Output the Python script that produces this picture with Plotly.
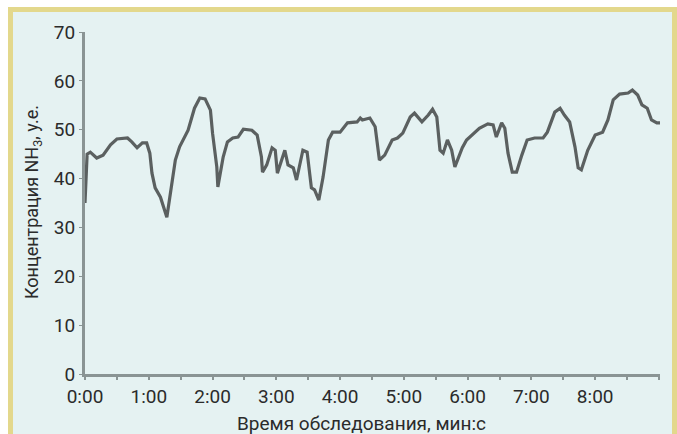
import plotly.graph_objects as go

# Time since start of examination, seconds
time_s = [0, 2, 5, 11, 17, 24, 30, 40, 44, 49, 54, 58, 61, 63, 66, 71, 77, 85, 89, 97,
          103, 108, 113, 118, 120, 124, 125, 130, 134, 139, 144, 149, 157, 162, 166, 167,
          171, 176, 179, 181, 188, 191, 196, 199, 205, 209, 213, 216, 220, 224, 229, 233,
          240, 247, 256, 259, 261, 268, 273, 277, 282, 289, 294, 299, 306, 310, 317, 323,
          327, 331, 334, 337, 341, 345, 348, 355, 359, 371, 379, 384, 387, 392, 395, 398,
          402, 406, 411, 416, 423, 431, 435, 442, 447, 451, 456, 461, 464, 467, 473, 480,
          487, 492, 497, 503, 511, 515, 520, 524, 529, 533, 538, 541]
# NH3 concentration, arbitrary units
conc = [35.0, 45.0, 45.4, 44.2, 44.8, 46.9, 48.1, 48.3, 47.5, 46.3, 47.3, 47.3, 45.2, 41.1,
        38.1, 36.2, 32.1, 43.8, 46.5, 49.9, 54.4, 56.5, 56.3, 54.0, 49.3, 42.4, 38.3, 44.4,
        47.5, 48.3, 48.5, 50.1, 49.9, 48.9, 44.4, 41.3, 42.8, 46.3, 45.8, 41.1, 45.8, 42.8,
        42.2, 39.7, 45.8, 45.4, 38.1, 37.7, 35.6, 40.3, 47.9, 49.5, 49.5, 51.4, 51.6, 52.4,
        52.0, 52.4, 50.6, 43.8, 44.8, 47.9, 48.3, 49.3, 52.6, 53.4, 51.6, 53.0, 54.2, 52.6,
        45.8, 45.2, 47.9, 45.8, 42.4, 46.3, 47.9, 50.3, 51.2, 51.0, 48.5, 51.4, 50.3, 45.2,
        41.3, 41.3, 44.8, 47.9, 48.3, 48.3, 49.5, 53.6, 54.4, 53.0, 51.6, 46.5, 42.2, 41.8,
        45.8, 48.9, 49.5, 52.0, 56.1, 57.3, 57.5, 58.1, 57.1, 55.1, 54.4, 52.0, 51.4, 51.4]

x_tickvals = [0, 60, 120, 180, 240, 300, 360, 420, 480]
x_ticktext = ["0:00", "1:00", "2:00", "3:00", "4:00", "5:00", "6:00", "7:00", "8:00"]
y_tickvals = [0, 10, 20, 30, 40, 50, 60, 70]

W, H = 677, 434
ML, MR, MT, MB = 85, 17, 32, 60
PW, PH = W - ML - MR, H - MT - MB

def px(x):
    return (x - ML) / PW

def py(y):
    return (H - MB - y) / PH

FONT = "Roboto, Liberation Sans Narrow, DejaVu Sans Condensed, sans-serif"
TXT = "#2b2b2b"
AX = "#8a9494"

fig = go.Figure()
fig.add_trace(go.Scatter(
    x=time_s, y=conc, mode="lines",
    line=dict(color="#5b6060", width=3.2, shape="linear"),
    hoverinfo="skip", showlegend=False,
))

fig.update_layout(
    width=W, height=H,
    margin=dict(l=ML, r=MR, t=MT, b=MB),
    paper_bgcolor="white",
    plot_bgcolor="rgba(0,0,0,0)",
    font=dict(family=FONT, color=TXT, size=18),
    showlegend=False,
    xaxis=dict(
        range=[0, 541], tickvals=x_tickvals, ticktext=x_ticktext,
        showgrid=False, zeroline=False, showline=True, linecolor=AX, linewidth=3,
        ticks="outside", ticklen=3, tickcolor=AX, tickwidth=2,
        minor=dict(dtick=30, tick0=0, ticks="outside", ticklen=3, tickcolor=AX, tickwidth=2),
        tickfont=dict(family=FONT, size=19, color=TXT),
    ),
    yaxis=dict(
        range=[0, 70], tickvals=y_tickvals,
        showgrid=False, zeroline=False, showline=True, linecolor=AX, linewidth=3,
        ticks="outside", ticklen=3, tickcolor=AX, tickwidth=1,
        tickfont=dict(family=FONT, size=19, color=TXT),
    ),
    shapes=[
        dict(type="rect", xref="paper", yref="paper", layer="below",
             x0=px(8), x1=px(W), y0=py(7), y1=py(H),
             fillcolor="#e3d88c", line=dict(width=0)),
        dict(type="rect", xref="paper", yref="paper", layer="below",
             x0=px(13), x1=px(672), y0=py(12), y1=py(H),
             fillcolor="#e5f2f2", line=dict(width=0)),
    ],
    annotations=[
        dict(text="Время обследования, мин:с", xref="paper", yref="paper",
             x=px(361), y=py(423), xanchor="center", yanchor="middle",
             showarrow=False, font=dict(family=FONT, size=19, color=TXT)),
        dict(text="Концентрация NH<sub>3</sub>, у.е.", xref="paper", yref="paper",
             x=px(33), y=py(202), xanchor="center", yanchor="middle", textangle=-90,
             showarrow=False, font=dict(family=FONT, size=18, color=TXT)),
    ],
)

fig.write_html("out.html", config={"displayModeBar": False},
               post_script="document.body.style.margin='0';")
